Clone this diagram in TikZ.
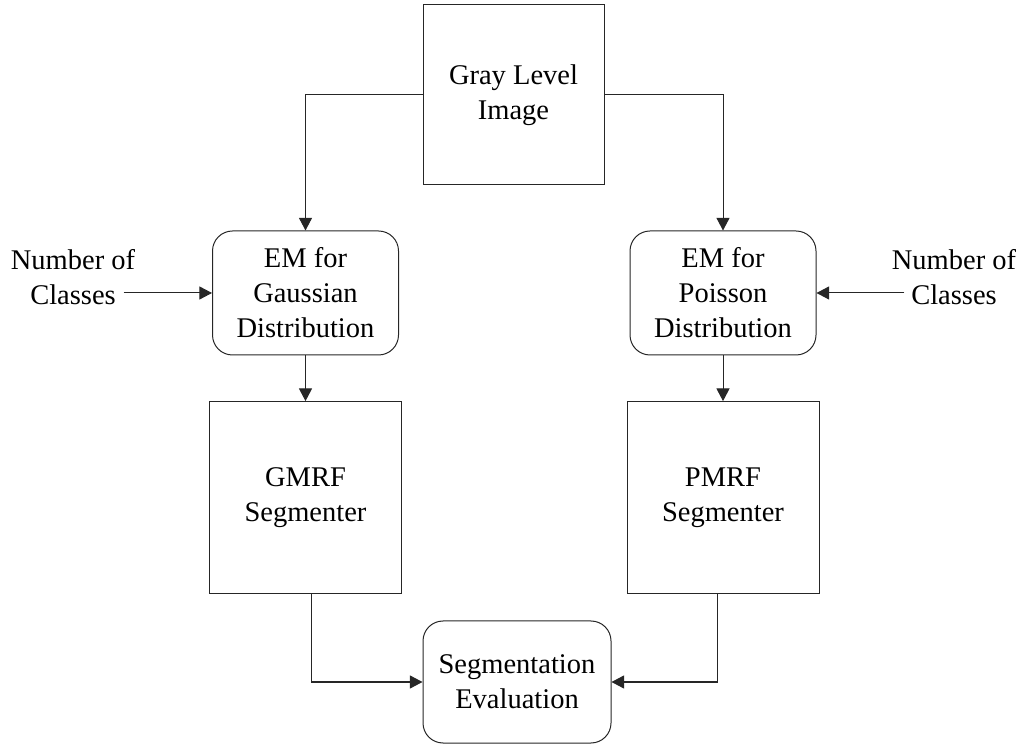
\documentclass[tikz,border=0pt]{standalone}
\usepackage{fontspec}
\setmainfont{Liberation Serif}
\usetikzlibrary{positioning,arrows.meta}
\definecolor{boxink}{HTML}{262626}
\tikzset{
  block/.style ={draw=boxink,line width=0.5pt,align=center,inner sep=2pt,font=\fontsize{14.25}{17.5}\selectfont,minimum width=96pt,minimum height=96pt},
  emstep/.style={block,rounded corners=10pt,minimum width=93pt,minimum height=62pt},
  txt/.style   ={align=center,inner sep=0pt,font=\fontsize{14.25}{17.5}\selectfont},
  arr/.style   ={-{Triangle[length=6.3pt,width=6.5pt]},line width=0.5pt,draw=boxink},
}

\begin{document}
\begin{tikzpicture}[node distance=23pt and 20pt]
  \useasboundingbox (0,0) rectangle (511pt,372pt);

  \node[block, minimum width=90.5pt, minimum height=90pt] (img) at (256.75pt,324.5pt) {Gray Level\\Image};
  \node[emstep] (emg) at (152.75pt,225.5pt) {EM for\\Gaussian\\Distribution};
  \node[emstep] (emp) at (361.5pt,225.5pt) {EM for\\Poisson\\Distribution};
  \node[block, below=22.8pt of emg] (gmrf) {GMRF\\Segmenter};
  \node[block, below=22.8pt of emp] (pmrf) {PMRF\\Segmenter};
  \node[emstep, minimum width=94pt, minimum height=61pt] (seg) at (258.5pt,31pt) {Segmentation\\Evaluation};

  \node[txt] (numL) at (36.5pt,233.5pt) {Number of\\Classes};
  \node[txt] (numR) at (477pt,233.5pt) {Number of\\Classes};

  % image feeds both EM branches
  \draw[arr] (img.west) -| (emg.north);
  \draw[arr] (img.east) -| (emp.north);
  % class count inputs
  \draw[arr] ([xshift=-6pt]numL.east |- emg.west) -- (emg.west);
  \draw[arr] ([xshift=6.5pt]numR.west |- emp.east) -- (emp.east);
  % EM -> MRF segmenters
  \draw[arr] (emg) -- (gmrf);
  \draw[arr] (emp) -- (pmrf);
  % both results go to evaluation
  \draw[arr] ([xshift=2.75pt]gmrf.south) |- (seg.west);
  \draw[arr] ([xshift=-3pt]pmrf.south) |- (seg.east);
\end{tikzpicture}
\end{document}
